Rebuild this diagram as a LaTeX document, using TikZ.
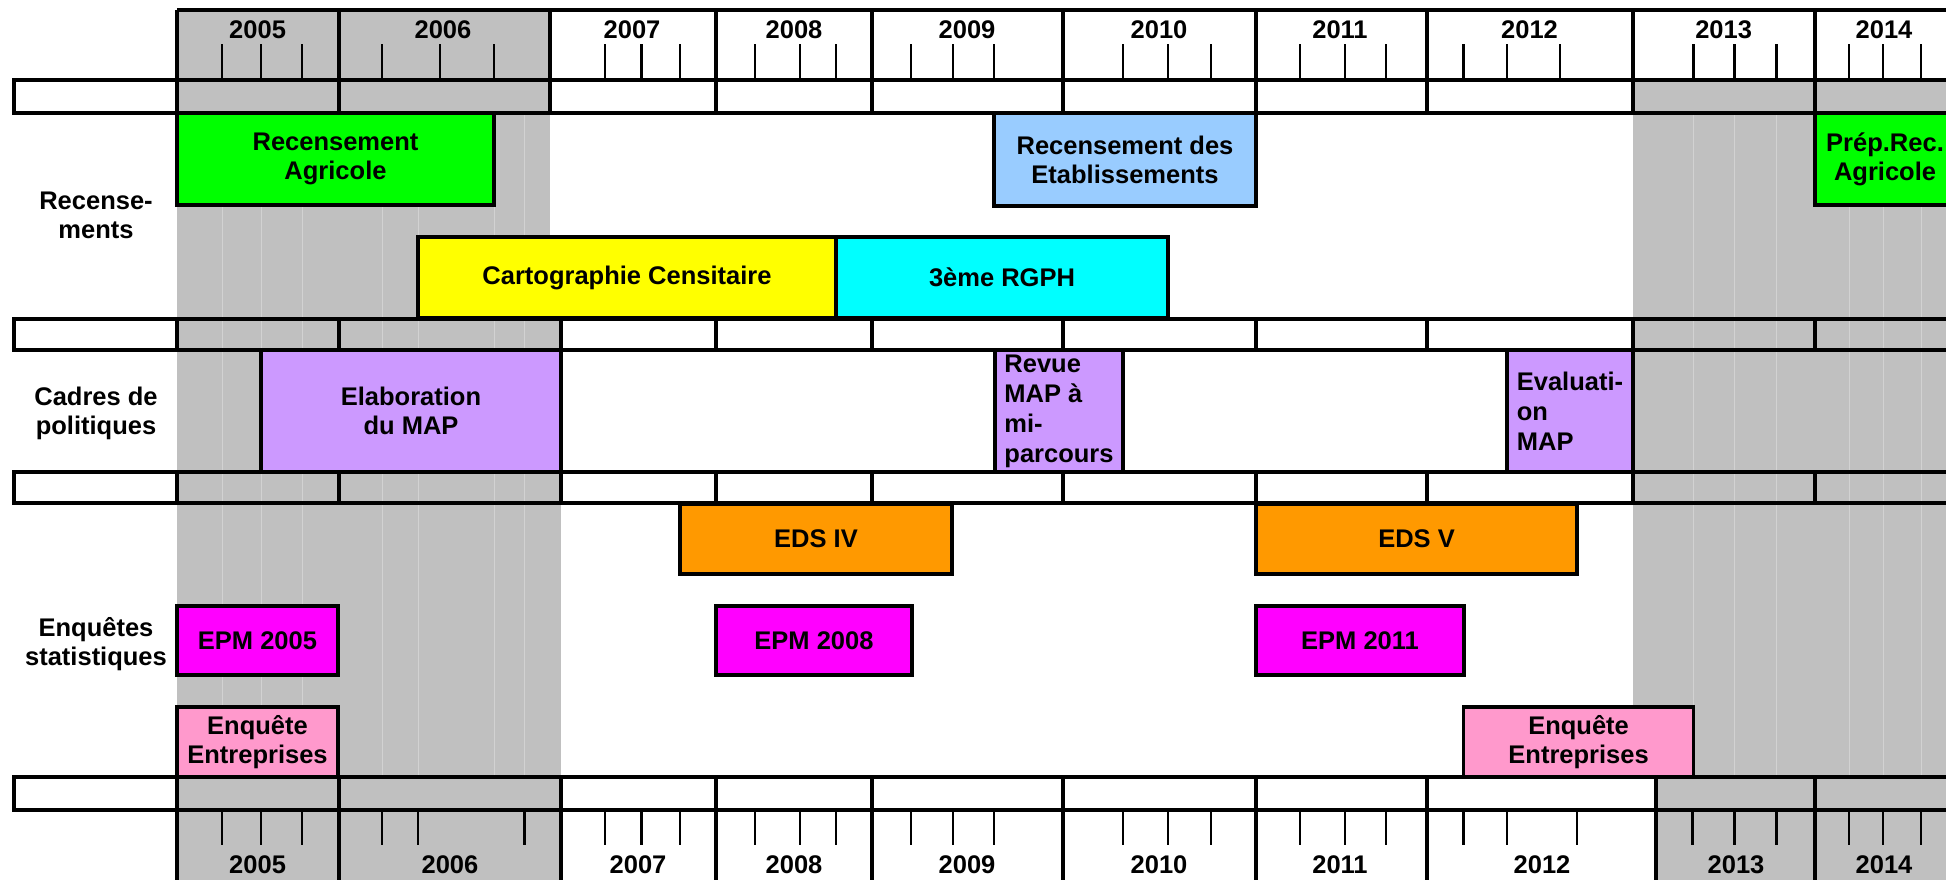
\documentclass[tikz,border=0pt]{standalone}
\usepackage{fontspec}
\setmainfont{Liberation Sans}
\definecolor{bandgrey}{RGB}{192,192,192}
\definecolor{faintline}{RGB}{210,210,210}
\definecolor{agri}{RGB}{0,255,0}
\definecolor{etab}{RGB}{153,204,255}
\definecolor{carto}{RGB}{255,255,0}
\definecolor{rgph}{RGB}{0,255,255}
\definecolor{mapc}{RGB}{204,153,255}
\definecolor{eds}{RGB}{255,153,0}
\definecolor{epm}{RGB}{255,0,255}
\definecolor{entr}{RGB}{255,153,204}
% \ebox{name}{x1}{y1}{x2}{y2}{colour}{extra options}{text}
\newcommand\ebox[8]{%
  \node[evbox, fill=#6, minimum width={(#4-#2)*0.5pt}, minimum height={(#5-#3)*0.5pt}, #7]
    (#1) at ({(#2+#4)/2},{(#3+#5)/2}) {#8};}
\begin{document}
\begin{tikzpicture}[x=0.5pt,y=-0.5pt,
  txt/.style={font=\fontsize{12.75}{14.6}\selectfont\bfseries, align=center, inner sep=0pt},
  tighttxt/.style={font=\fontsize{12.75}{15}\selectfont\bfseries},
  frame/.style={draw=black, line width=1.6pt},
  evbox/.style={frame, txt, rectangle, outer sep=0pt},
  tickmark/.style={draw=black, line width=1.45pt},
  divider/.style={draw=black, line width=1.6pt},
  gridfaint/.style={draw=faintline, line width=0.45pt}
  ]
\clip (0,0) rectangle (1946,880);
\fill[white] (0,0) rectangle (1946,880);
% grey shaded periods
\fill[bandgrey] (177,10) rectangle (550,319);
\fill[bandgrey] (177,319) rectangle (561,880);
\fill[bandgrey] (1633,80) rectangle (1960,777);
\fill[bandgrey] (1656,777) rectangle (1960,880);
% faint grid lines inside the grey periods
\foreach \x in {222,261,302,382,418,494,524}
  \draw[gridfaint] (\x,113) -- (\x,777);
\foreach \x in {1693.5,1734.7,1776.7,1849,1883,1921}
  \draw[gridfaint] (\x,113) -- (\x,777);
% band rows
\draw[frame] (14,80) rectangle (1970,113);
\draw[frame] (14,319) rectangle (1970,350);
\draw[frame] (14,472) rectangle (1970,503);
\draw[frame] (14,777) rectangle (1970,810);
% top axis
\draw[divider] (177,10) -- (1970,10);
\foreach \x in {177,339,550,716,872,1063,1256,1427,1633,1815}
  \draw[divider] (\x,10) -- (\x,113);
\foreach \x in {177,339,561,716,872,1063,1256,1427,1633,1815}
  \draw[divider] (\x,319) -- (\x,350) (\x,472) -- (\x,503);
\foreach \x in {177,339,561,716,872,1063,1256,1427,1656,1815}
  \draw[divider] (\x,777) -- (\x,880);
% ticks
\foreach \x in {222,261,302,382,440,494,605,641.5,680,755,800,836,911,953,994,1123,1168,1211,1300,1345,1386,1463.6,1507,1560,1693.5,1734.7,1776.7,1849,1883,1921}
  \draw[tickmark] (\x,44) -- (\x,80);
\foreach \x in {222,261,302,382,418,524.5,605,641.5,680,755,800,836,911,953,994,1123,1168,1211,1300,1345,1386,1463.6,1507,1577,1692.7,1734.7,1776.7,1849,1883,1921}
  \draw[tickmark] (\x,810) -- (\x,845);
% year labels
\foreach \n/\x in {2005/257.6,2006/443,2007/632,2008/794,2009/967,2010/1159,2011/1340,2012/1529.5,2013/1723.6,2014/1884}
  \node[txt] (top\n) at (\x,30) {\n};
\foreach \n/\x in {2005/257.6,2006/450,2007/638,2008/794,2009/967,2010/1159,2011/1340,2012/1542,2013/1736,2014/1884}
  \node[txt] (bot\n) at (\x,865) {\n};
% row labels
\node[txt] (lrec) at (96,215) {Recense-\\ments};
\node[txt] (lcad) at (96,413) {Cadres de\\politiques};
\node[txt] (lenq) at (96,644) {Enquêtes\\statistiques};
% Recensements
\ebox{ra}{177}{113}{494}{205}{agri}{}{Recensement\\Agricole}
\ebox{re}{994}{113}{1256}{206}{etab}{}{Recensement des\\Etablissements}
\ebox{pra}{1815}{113}{1955}{205}{agri}{}{Prép.Rec.\\Agricole}
\ebox{cc}{418}{237}{836}{318}{carto}{}{Cartographie Censitaire}
\ebox{rgph}{836}{237}{1168}{318}{rgph}{}{3ème RGPH}
% Cadres de politiques
\ebox{emap}{261}{350}{561}{472}{mapc}{}{Elaboration\\du MAP}
\ebox{rmap}{995}{350}{1123}{472}{mapc}{align=left, tighttxt}{Revue\\MAP à\\mi-\\parcours}
\ebox{evmap}{1507}{350}{1633}{472}{mapc}{align=left, tighttxt}{Evaluati-\\on\\MAP}
% Enquetes statistiques
\ebox{eds4}{680}{504}{952}{574}{eds}{}{EDS IV}
\ebox{eds5}{1256}{504}{1577}{574}{eds}{}{EDS V}
\ebox{epm5}{177}{606}{338}{675}{epm}{}{EPM 2005}
\ebox{epm8}{716}{606}{912}{675}{epm}{}{EPM 2008}
\ebox{epm11}{1256}{606}{1464}{675}{epm}{}{EPM 2011}
\ebox{ee5}{177}{707}{338}{777}{entr}{}{Enquête\\Entreprises}
\ebox{ee12}{1463.6}{707}{1693.5}{777}{entr}{}{Enquête\\Entreprises}
\end{tikzpicture}
\end{document}
